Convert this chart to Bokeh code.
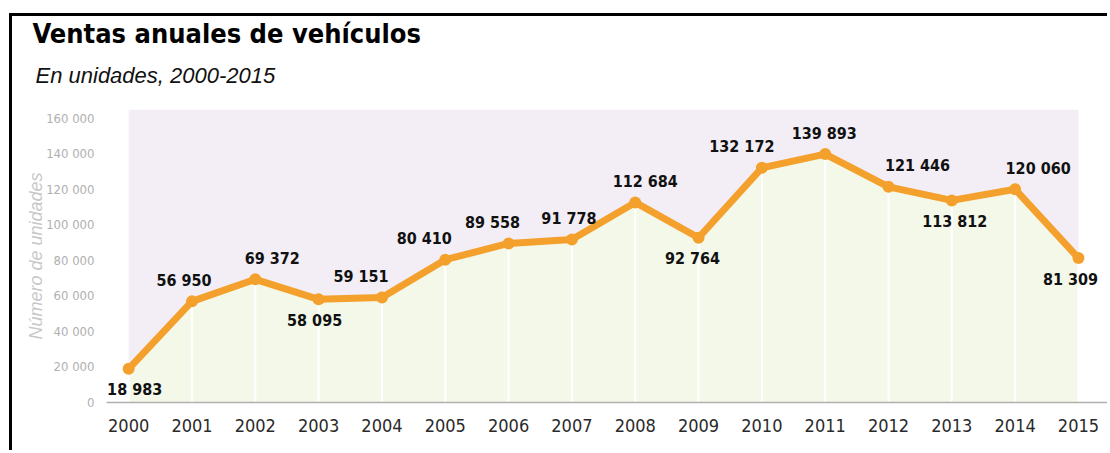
from bokeh.plotting import figure
from bokeh.models import ColumnDataSource, Range1d, FixedTicker, Title, LabelSet
from bokeh.core.properties import value
from bokeh.embed import file_html
from bokeh.resources import INLINE

# ---- data ----
years = [2000, 2001, 2002, 2003, 2004, 2005, 2006, 2007,
         2008, 2009, 2010, 2011, 2012, 2013, 2014, 2015]
sales = [18983, 56950, 69372, 58095, 59151, 80410, 89558, 91778,
         112684, 92764, 132172, 139893, 121446, 113812, 120060, 81309]
label_side = ["below", "above", "above", "below", "above", "above", "above", "above",
              "above", "below", "above", "above", "above", "below", "above", "below"]
y_ticks = [0, 20000, 40000, 60000, 80000, 100000, 120000, 140000, 160000]
y_tick_labels = ["0", "20 000", "40 000", "60 000", "80 000", "100 000",
                 "120 000", "140 000", "160 000"]
y_top = 165000
title_text = "Ventas anuales de vehículos"
subtitle_text = "En unidades, 2000-2015"
y_axis_title = "Número de unidades"

# ---- styling ----
ORANGE = "#f4a02c"
LAVENDER = "#f3eef6"
GREEN = "#f4f8e9"
COND = "DejaVu Sans Condensed"
label_dx = [6, -8, 17, -4, -21, -21, -16, -3, 10, -6, -20, -1, 29, 3, 23, -8]

def fmt(v):
    return f"{v:,}".replace(",", " ")

p = figure(width=1098, height=437, output_backend="svg", toolbar_location=None,
           x_range=Range1d(1999.65, 2015.49), y_range=Range1d(0, y_top),
           min_border_left=94, min_border_right=1, min_border_top=93,
           min_border_bottom=51, background_fill_color="white",
           border_fill_color="white", outline_line_color=None)
p.styles = {"border-top": "3px solid black", "border-left": "3px solid black",
            "margin-left": "9px", "margin-top": "13px"}

p.grid.visible = False

# background panels
p.quad(left=[years[0]], right=[years[-1]], bottom=[0], top=[y_top],
       fill_color=LAVENDER, line_color=None)
p.varea(x=years, y1=[0] * len(years), y2=sales, fill_color=GREEN)
p.segment(x0=years, y0=[0] * len(years), x1=years, y1=sales,
          line_color="white", line_width=2)

# line + points
p.line(years, sales, line_color=ORANGE, line_width=7, line_join="round")
p.scatter(years, sales, size=12, fill_color=ORANGE, line_color=None)

# value labels
src = ColumnDataSource(dict(
    x=years, y=sales, text=[fmt(v) for v in sales],
    dx=label_dx,
    dy=[21 if s == "above" else -21 for s in label_side],
))
p.add_layout(LabelSet(x="x", y="y", text="text", x_offset="dx", y_offset="dy",
                      source=src, text_font=value(COND), text_font_style="bold",
                      text_font_size="16px", text_color="#111111",
                      text_align="center", text_baseline="middle"))

# axes
xa = p.xaxis[0]
xa.ticker = FixedTicker(ticks=years)
xa.axis_line_color = "#b0b0b0"
xa.axis_line_width = 1.5
xa.major_tick_line_color = None
xa.minor_tick_line_color = None
xa.major_label_standoff = 10
xa.major_label_text_font = COND
xa.major_label_text_font_size = "18px"
xa.major_label_text_color = "#2a2a2a"

ya = p.yaxis[0]
ya.ticker = FixedTicker(ticks=y_ticks)
ya.major_label_overrides = {t: l for t, l in zip(y_ticks, y_tick_labels)}
ya.axis_line_color = None
ya.major_tick_line_color = None
ya.minor_tick_line_color = None
ya.major_label_standoff = 6
ya.major_label_text_font = COND
ya.major_label_text_font_size = "13px"
ya.major_label_text_color = "#b0b0b0"
ya.axis_label = y_axis_title
ya.axis_label_text_font = "Liberation Sans"
ya.axis_label_text_font_style = "italic"
ya.axis_label_text_font_size = "18px"
ya.axis_label_text_color = "#c8c8c8"
ya.axis_label_standoff = -3

# titles (last added is outermost)
p.add_layout(Title(text=subtitle_text, align="left", offset=-71, standoff=44,
                   text_font="Liberation Sans", text_font_style="italic",
                   text_font_size="22px", text_color="#111111"), "above")
p.add_layout(Title(text=title_text, align="left", offset=-74, standoff=-20,
                   text_font=COND, text_font_style="bold",
                   text_font_size="27px", text_color="black"), "above")

open("out.html", "w").write(file_html(p, INLINE))
